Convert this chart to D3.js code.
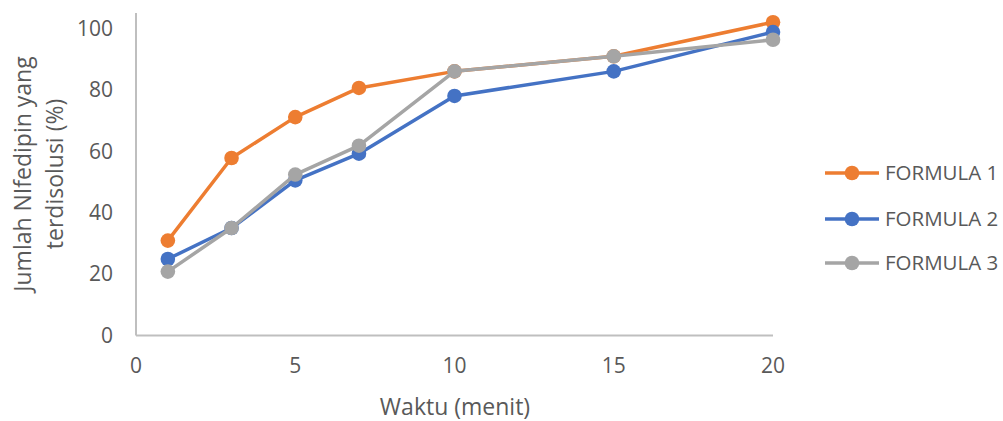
<!DOCTYPE html>
<html><head><meta charset="utf-8">
<script src="https://cdn.jsdelivr.net/npm/d3@7"></script>
<style>body{margin:0;background:#fff}svg{display:block}</style>
</head><body>
<script>
const times = [1, 3, 5, 7, 10, 15, 20];
const formula1 = [30.9, 57.8, 71.1, 80.6, 86.0, 90.9, 102.0];
const formula2 = [24.9, 35.0, 50.5, 59.2, 78.0, 86.0, 98.8];
const formula3 = [20.8, 35.0, 52.4, 61.8, 86.0, 90.9, 96.3];
const seriesNames = ["FORMULA 1", "FORMULA 2", "FORMULA 3"];
const xTicks = [0, 5, 10, 15, 20];
const yTicks = [0, 20, 40, 60, 80, 100];
const xTitle = "Waktu (menit)";
const yTitle = ["Jumlah NIfedipin yang", "terdisolusi (%)"];

const W = 1003, H = 421;
const colors = ["#ED7D31", "#4472C4", "#A5A5A5"];
const font = "'Open Sans', 'Liberation Sans', Arial, sans-serif";
const textColor = "#595959";

const svg = d3.select("body").append("svg").attr("width", W).attr("height", H);
const x = d3.scaleLinear().domain([0, 20]).range([136, 773]);
const y = d3.scaleLinear().domain([0, 105]).range([335.5, 13]);

// axes lines
svg.append("line").attr("x1", x(0)).attr("x2", x(0)).attr("y1", y(105)).attr("y2", y(0))
  .attr("stroke", "#BFBFBF").attr("stroke-width", 2);
svg.append("line").attr("x1", x(0)).attr("x2", x(20)).attr("y1", y(0)).attr("y2", y(0))
  .attr("stroke", "#BFBFBF").attr("stroke-width", 2);

// tick labels
svg.selectAll(".yt").data(yTicks).enter().append("text")
  .attr("x", 113).attr("y", d => y(d)).attr("dy", "0.35em")
  .attr("text-anchor", "end").attr("font-family", font).attr("font-size", 21)
  .attr("fill", textColor).text(d => d);
svg.selectAll(".xt").data(xTicks).enter().append("text")
  .attr("x", d => x(d)).attr("y", 366).attr("dy", "0.35em")
  .attr("text-anchor", "middle").attr("font-family", font).attr("font-size", 21)
  .attr("fill", textColor).text(d => d);

// titles
svg.append("text").attr("x", 455).attr("y", 407).attr("dy", "0.35em")
  .attr("text-anchor", "middle").attr("font-family", font).attr("font-size", 23)
  .attr("fill", textColor).text(xTitle);
const yt = svg.append("text").attr("transform", "translate(0,174) rotate(-90)")
  .attr("text-anchor", "middle").attr("font-family", font).attr("font-size", 23)
  .attr("fill", textColor);
yTitle.forEach((t, i) => yt.append("tspan").attr("x", 0).attr("y", 31 + i * 32).text(t));

// series
const allSeries = [formula1, formula2, formula3];
const line = d3.line().x((d, i) => x(times[i])).y(d => y(d));
allSeries.forEach((vals, s) => {
  const g = svg.append("g");
  g.append("path").datum(vals).attr("d", line).attr("fill", "none")
    .attr("stroke", colors[s]).attr("stroke-width", 3.5).attr("stroke-linejoin", "round");
  g.selectAll("circle").data(vals).enter().append("circle")
    .attr("cx", (d, i) => x(times[i])).attr("cy", d => y(d)).attr("r", 7.3)
    .attr("fill", colors[s]);
});

// legend
const legY = [173, 219, 263];
seriesNames.forEach((n, i) => {
  const g = svg.append("g");
  g.append("line").attr("x1", 825).attr("x2", 879).attr("y1", legY[i]).attr("y2", legY[i])
    .attr("stroke", colors[i]).attr("stroke-width", 3.5);
  g.append("circle").attr("cx", 852).attr("cy", legY[i]).attr("r", 7.3).attr("fill", colors[i]);
  g.append("text").attr("x", 885).attr("y", legY[i]).attr("dy", "0.35em")
    .attr("font-family", font).attr("font-size", 20.5).attr("fill", textColor).text(n);
});
</script>
</body></html>
